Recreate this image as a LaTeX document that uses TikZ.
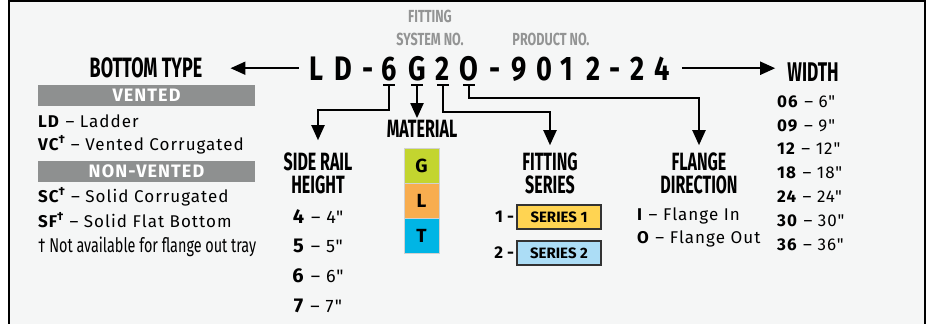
\documentclass[tikz,border=0pt]{standalone}
\usepackage{fontspec}
\setmainfont{Fira Sans}
\newfontfamily\condfont[FakeStretch=0.64]{Fira Sans}
\newfontfamily\notefont[FakeStretch=0.72]{Fira Sans}
\newfontfamily\codefont[FakeStretch=0.8]{Fira Sans}
\newfontfamily\trackfont[LetterSpace=6]{Fira Sans}
\usetikzlibrary{arrows.meta, positioning}
\definecolor{bg}{HTML}{F5F6F6}
\definecolor{bargrey}{HTML}{8E9090}
\definecolor{capgrey}{HTML}{939494}
\definecolor{swG}{HTML}{C3D52F}
\definecolor{swL}{HTML}{F8AD4F}
\definecolor{swT}{HTML}{00B5E5}
\definecolor{serA}{HTML}{FFD452}
\definecolor{serB}{HTML}{ACDDF6}

\begin{document}
\begin{tikzpicture}[x=1pt, y=-1pt,
  head/.style={font=\condfont\bfseries\fontsize{25}{23}\selectfont, align=center, inner sep=0pt},
  greycap/.style={font=\notefont\bfseries\fontsize{17.5}{23}\selectfont, text=capgrey, align=center, inner sep=0pt},
  char/.style={font=\codefont\bfseries\fontsize{34}{34}\selectfont, anchor=base, inner sep=0pt},
  item/.style={font=\trackfont\fontsize{17}{20}\selectfont, anchor=base west, inner sep=0pt},
  val/.style={font=\trackfont\fontsize{18}{20}\selectfont, anchor=base, inner sep=0pt},
  bar/.style={fill=bargrey, minimum width=217pt, minimum height=21pt, inner sep=0pt,
    text=white, font=\trackfont\bfseries\fontsize{18}{18}\selectfont},
  swatch/.style={draw=black!18, line width=1pt, minimum size=35pt, inner sep=0pt,
    font=\bfseries\fontsize{19}{19}\selectfont},
  series/.style={draw=black!80, line width=1.5pt, minimum width=84pt, minimum height=24pt,
    inner sep=0pt, font=\bfseries\fontsize{15}{15}\selectfont},
  num/.style={font=\bfseries\fontsize{17}{17}\selectfont, inner sep=0pt},
  link/.style={line width=2pt, -{Triangle[width=13pt,length=15pt]}},
  tick/.style={line width=2pt}]
\useasboundingbox (0,0) rectangle (927,324);
\fill[bg] (9,1) rectangle (925,324);
\draw[line width=2pt] (9,324) -- (9,1) -- (925,1) -- (925,324);

% code
\foreach \x/\c/\n in {316/L/cL, 343/D/cD, 368/-/d1, 389/6/c6, 417/G/cG, 443/2/c2, 469/O/cO,
    495/-/d2, 519/9/c9, 544/0/cZ, 567/1/c1, 594/2/cT, 615/-/d3, 638/2/cW, 662/4/c4}
  \node[char] (\n) at (\x,80) {\c};
\node[greycap] (FSN) at (430,27.5) {FITTING\\SYSTEM NO.};
\node[greycap] (PN) at (551,39) {PRODUCT NO.};

% headings
\node[head, font=\condfont\bfseries\fontsize{28}{28}\selectfont] (BT) at (146,68) {BOTTOM TYPE};
\node[head, font=\condfont\bfseries\fontsize{27}{27}\selectfont] (W) at (813,72) {WIDTH};
\node[head] (SR) at (318,173) {SIDE RAIL\\HEIGHT};
\node[head] (MAT) at (422,129) {MATERIAL};
\node[head] (FS) at (550,173) {FITTING\\SERIES};
\node[head] (FD) at (699,173) {FLANGE\\DIRECTION};

% bottom type
\node[bar] (V) at (146.5,95.5) {VENTED};
\node[item] (LD) at (38,127) {\textbf{LD} – Ladder};
\node[item] (VC) at (38,150) {\textbf{VC\textsuperscript{†}} – Vented Corrugated};
\node[bar] (NV) at (146.5,171.5) {NON-VENTED};
\node[item] (SC) at (38,202) {\textbf{SC\textsuperscript{†}} – Solid Corrugated};
\node[item] (SF) at (38,227) {\textbf{SF\textsuperscript{†}} – Solid Flat Bottom};
\node[item, font=\notefont\fontsize{20}{20}\selectfont] (NA) at (38,252) {† Not available for flange out tray};

% side rail height
\foreach \y/\h in {223/4, 252/5, 282/6, 312/7}
  \node[val] (H\h) at (318,\y) {{\fontsize{20}{20}\selectfont\textbf{\h}} – \h"};

% material
\node[swatch, fill=swG] (G) at (421.5,166) {G};
\node[swatch, fill=swL] (L) at (421.5,200.5) {L};
\node[swatch, fill=swT] (T) at (421.5,235.5) {T};

% fitting series
\node[series, fill=serA] (S1) at (559,217) {SERIES 1};
\node[series, fill=serB] (S2) at (559,253) {SERIES 2};
\node[num, left=2pt of S1.west] (N1) {1 -};
\node[num, left=2pt of S2.west] (N2) {2 -};

% flange direction
\node[item] (FI) at (637,220) {\textbf{I} – Flange In};
\node[item] (FO) at (637,243) {\textbf{O} – Flange Out};

% width
\foreach \y/\w/\v in {107/06/6, 131/09/9, 154/12/12, 178/18/18, 202/24/24, 226/30/30, 250/36/36}
  \node[item] (W\w) at (777,\y) {\textbf{\w} – \v"};

% brackets and arrows
\foreach \n in {c6, cG, c2, cO}
  \draw[tick] ([xshift=-6pt,yshift=-5pt]\n.base) -- ([xshift=6pt,yshift=-5pt]\n.base);
\draw[link, shorten >=12pt] ([yshift=-5pt]c6.base) -- ([yshift=-30pt]c6.base) -| (SR.north);
\draw[link, shorten >=2pt] ([yshift=-5pt]cG.base) -- (cG.base |- MAT.north);
\draw[link, shorten >=7pt] ([yshift=-5pt]c2.base) -- ([yshift=-32pt]c2.base) -| (FS.north);
\draw[link, shorten >=7pt] ([yshift=-5pt]cO.base) -- ([yshift=-18pt]cO.base) -| (FD.north);
\draw[link, shorten <=10pt, shorten >=28pt] (cL.west) -- (cL.west -| BT.east);
\draw[link, shorten <=12pt, shorten >=12pt] (c4.east) -- (c4.east -| W.west);
\end{tikzpicture}
\end{document}
